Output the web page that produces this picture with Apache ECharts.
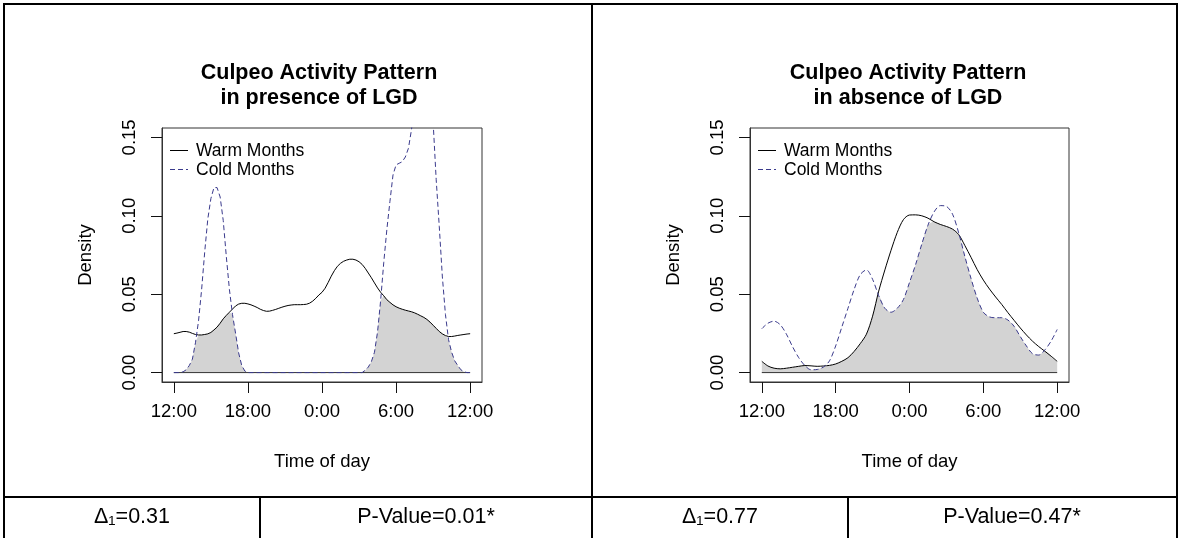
<!DOCTYPE html>
<html><head><meta charset="utf-8">
<script src="https://cdn.jsdelivr.net/npm/echarts@6/dist/echarts.min.js"></script>
<style>html,body{margin:0;padding:0;background:#fff}#c{width:1180px;height:538px}</style>
</head><body><div id="c"></div>
<script>
// ---- data (hours after 12:00 noon) ----
const leftHours = [0,0.25,0.5,0.75,1,1.25,1.5,1.75,2,2.25,2.5,2.75,3,3.25,3.5,3.75,4,4.25,4.5,4.75,5,5.25,5.5,5.75,6,6.25,6.5,6.75,7,7.25,7.5,7.75,8,8.25,8.5,8.75,9,9.25,9.5,9.75,10,10.25,10.5,10.75,11,11.25,11.5,11.75,12,12.25,12.5,12.75,13,13.25,13.5,13.75,14,14.25,14.5,14.75,15,15.25,15.5,15.75,16,16.25,16.5,16.75,17,17.25,17.5,17.75,18,18.25,18.5,18.75,19,19.25,19.5,19.75,20,20.25,20.5,20.75,21,21.25,21.5,21.75,22,22.25,22.5,22.75,23,23.25,23.5,23.75,24];
const leftWarm = [0.0248,0.0252,0.0257,0.0262,0.0262,0.0258,0.0250,0.0243,0.0240,0.0240,0.0243,0.0247,0.0256,0.0272,0.0290,0.0315,0.0343,0.0365,0.0385,0.0405,0.0425,0.0437,0.0442,0.0442,
0.0438,0.0432,0.0424,0.0415,0.0404,0.0396,0.0391,0.0392,0.0397,0.0403,0.0410,0.0417,0.0423,0.0428,0.0431,0.0433,0.0433,0.0433,0.0434,0.0436,0.0443,0.0456,0.0474,0.0495,
0.0512,0.0538,0.0575,0.0615,0.0650,0.0678,0.0697,0.0710,0.0718,0.0723,0.0723,0.0718,0.0707,0.0690,0.0665,0.0635,0.0605,0.0572,0.0540,0.0512,0.0490,0.0465,0.0448,0.0432,
0.0420,0.0411,0.0404,0.0398,0.0393,0.0388,0.0381,0.0372,0.0362,0.0352,0.0339,0.0322,0.0302,0.0282,0.0262,0.0247,0.0236,0.0230,0.0230,0.0233,0.0237,0.0240,0.0243,0.0246,0.0248];
const leftCold = [0,0,0,0.0005,0.0018,0.0045,0.0085,0.0190,0.0330,0.0530,0.0770,0.0980,0.1110,0.1180,0.1180,0.1120,0.0970,0.0740,0.0530,0.0370,0.0250,0.0125,0.0045,0.0010,
0,0,0,0,0,0,0,0,0,0,0,0,0,0,0,0,0,0,0,0,0,0,0,0,
0,0,0,0,0,0,0,0,0,0,0,0,0,0,0.0015,0.0035,0.0070,0.0130,0.0260,0.0460,0.0700,0.0910,0.1090,0.1260,
0.1325,0.1335,0.1345,0.1375,0.1430,0.1550,0.1720,0.1880,0.1980,0.2000,0.1950,0.1820,0.1600,0.1230,0.0930,0.0610,0.0370,0.0210,0.0130,0.0075,0.0045,0.0018,0.0005,0,0];
const rightHours = [0,0.5,1,1.5,2,2.5,3,3.5,4,4.5,5,5.5,6,6.5,7,7.5,8,8.5,9,9.5,10,10.5,11,11.5,12,12.5,13,13.5,14,14.5,15,15.5,16,16.5,17,17.5,18,18.5,19,19.5,20,20.5,21,21.5,22,22.5,23,23.5,24];
const rightWarm = [0.0072,0.0042,0.0028,0.0024,0.0028,0.0034,0.0040,0.0045,0.0043,0.0040,0.0042,0.0046,
0.0055,0.0072,0.0095,0.0135,0.0185,0.0245,0.0360,0.0520,0.0655,0.0780,0.0893,0.0975,
0.1005,0.1006,0.1000,0.0985,0.0962,0.0945,0.0932,0.0915,0.0880,0.0810,0.0735,0.0657,
0.0590,0.0533,0.0482,0.0434,0.0382,0.0333,0.0285,0.0240,0.0200,0.0166,0.0136,0.0105,0.0072];
const rightCold = [0.0280,0.0315,0.0328,0.0305,0.0245,0.0165,0.0095,0.0045,0.0018,0.0020,0.0035,0.0075,
0.0170,0.0290,0.0410,0.0530,0.0625,0.0655,0.0595,0.0490,0.0410,0.0385,0.0410,0.0465,
0.0575,0.0690,0.0820,0.0940,0.1025,0.1065,0.1060,0.1010,0.0890,0.0740,0.0600,0.0475,
0.0385,0.0355,0.0350,0.0350,0.0335,0.0295,0.0230,0.0170,0.0120,0.0112,0.0145,0.0200,0.0275];
const xTickHours = [0,6,12,18,24];
const xTickLabels = ['12:00','18:00','0:00','6:00','12:00'];
const yTicks = [0,0.05,0.10,0.15];
const panelTitles = ['Culpeo Activity Pattern\nin presence of LGD','Culpeo Activity Pattern\nin absence of LGD'];
const seriesNames = ['Warm Months','Cold Months'];
const deltaValues = [0.31,0.77];
const pValues = ['0.01*','0.47*'];

// ---- styling ----
const F = '"Liberation Sans", Arial, Helvetica, sans-serif';
const COLD = '#3a3a8c';
const DASH = [5,3];
const grids = [
  {left:162, top:128, width:320, height:254},
  {left:750, top:128, width:319, height:254}
];

function xAxis(gi){
  return {
    gridIndex:gi, type:'value', min:-0.96, max:24.96,
    axisLine:{show:true, onZero:false, lineStyle:{color:'#333', width:1}}, splitLine:{show:false},
    axisTick:{show:true, inside:false, customValues:xTickHours, length:11, lineStyle:{color:'#111', width:1}},
    axisLabel:{customValues:xTickHours, margin:20, fontFamily:F, fontSize:18.5, color:'#000',
      formatter:v=>{const i=xTickHours.findIndex(t=>Math.abs(t-v)<1e-6);return i>=0?xTickLabels[i]:'';}},
    name:'Time of day', nameLocation:'middle', nameGap:70,
    nameTextStyle:{fontFamily:F, fontSize:18.5, color:'#000'}
  };
}
function yAxis(gi){
  return {
    gridIndex:gi, type:'value', min:-0.006, max:0.156,
    axisLine:{show:true, onZero:false, lineStyle:{color:'#333', width:1}}, splitLine:{show:false},
    axisTick:{show:true, inside:false, customValues:yTicks, length:11, lineStyle:{color:'#111', width:1}},
    axisLabel:{customValues:yTicks, rotate:90, margin:22.5, fontFamily:F, fontSize:18.5, color:'#000',
      formatter:v=>v.toFixed(2)},
    name:'Density', nameLocation:'middle', nameRotate:90, nameGap:67,
    nameTextStyle:{fontFamily:F, fontSize:18.5, color:'#000'}
  };
}
function panelSeries(gi, hours, warm, cold, smooth){
  const overlap = hours.map((h,i)=>[h, Math.min(warm[i], cold[i])]);
  return [
    {type:'line', name:'Overlap', xAxisIndex:gi, yAxisIndex:gi, data:overlap, symbol:'none', smooth:smooth,
     lineStyle:{width:0, opacity:0}, areaStyle:{color:'#d3d3d3', opacity:1}, z:1, silent:true},
    {type:'line', name:'Baseline', xAxisIndex:gi, yAxisIndex:gi, data:[[hours[0],0],[hours[hours.length-1],0]],
     symbol:'none', lineStyle:{color:'#333', width:1}, z:2, silent:true},
    {type:'line', name:seriesNames[0], xAxisIndex:gi, yAxisIndex:gi, data:hours.map((h,i)=>[h,warm[i]]),
     symbol:'none', smooth:smooth, lineStyle:{color:'#000', width:1}, z:3, silent:true},
    {type:'line', name:seriesNames[1], xAxisIndex:gi, yAxisIndex:gi, data:hours.map((h,i)=>[h,cold[i]]),
     symbol:'none', smooth:smooth, lineStyle:{color:COLD, width:1, type:DASH}, z:4, silent:true}
  ];
}

const graphics = [];
function hline(x1,y1,x2,y2){
  graphics.push({type:'line', silent:true, shape:{x1,y1,x2,y2}, style:{stroke:'#000', lineWidth:2}});
}
hline(3,4,1178,4);
hline(4,4,4,538);
hline(1177,4,1177,538);
hline(592,4,592,538);
hline(4,497,1177,497);
hline(260,497,260,538);
hline(848,497,848,538);
function gtext(x,y,txt,size,extra){
  graphics.push({type:'text', x:x, y:y, silent:true,
    style:{text:txt, fontFamily:F, fontSize:size, fill:'#000',
      align:(extra&&extra.align)||'left', textAlign:(extra&&extra.align)||'left',
      verticalAlign:'middle', textVerticalAlign:'middle'}});
}
const tableCenters = [[132,426],[720,1012]];
deltaValues.forEach((d,i)=>{
  gtext(tableCenters[i][0], 517, 'Δ\u2081=' + d.toFixed(2), 21.5, {align:'center'});
  gtext(tableCenters[i][1], 517, 'P-Value=' + pValues[i], 21.5, {align:'center'});
});
// legends drawn inside each panel
grids.forEach((g,i)=>{
  const x0 = g.left + 8;
  graphics.push({type:'line', silent:true, shape:{x1:x0, y1:150.5, x2:x0+18, y2:150.5}, style:{stroke:'#000', lineWidth:1}});
  graphics.push({type:'line', silent:true, shape:{x1:x0, y1:169.5, x2:x0+18, y2:169.5}, style:{stroke:COLD, lineWidth:1, lineDash:DASH}});
  gtext(x0+26, 151, seriesNames[0], 17.5);
  gtext(x0+26, 170, seriesNames[1], 17.5);
});

const chart = echarts.init(document.getElementById('c'), null, {renderer:'canvas'});
chart.setOption({
  animation:false,
  backgroundColor:'#fff',
  title: panelTitles.map((t,i)=>({
    text:t, left:[319,908][i], top:61, textAlign:'center', padding:0,
    textStyle:{fontFamily:F, fontSize:21.5, fontWeight:'bold', color:'#000', lineHeight:25}
  })),
  grid: grids.map(g=>Object.assign({show:true, borderColor:'#333', borderWidth:1, backgroundColor:'transparent', containLabel:false}, g)),
  xAxis:[xAxis(0), xAxis(1)],
  yAxis:[yAxis(0), yAxis(1)],
  series:[].concat(panelSeries(0, leftHours, leftWarm, leftCold, false),
                   panelSeries(1, rightHours, rightWarm, rightCold, 0.3)),
  graphic: graphics
});
</script></body></html>
